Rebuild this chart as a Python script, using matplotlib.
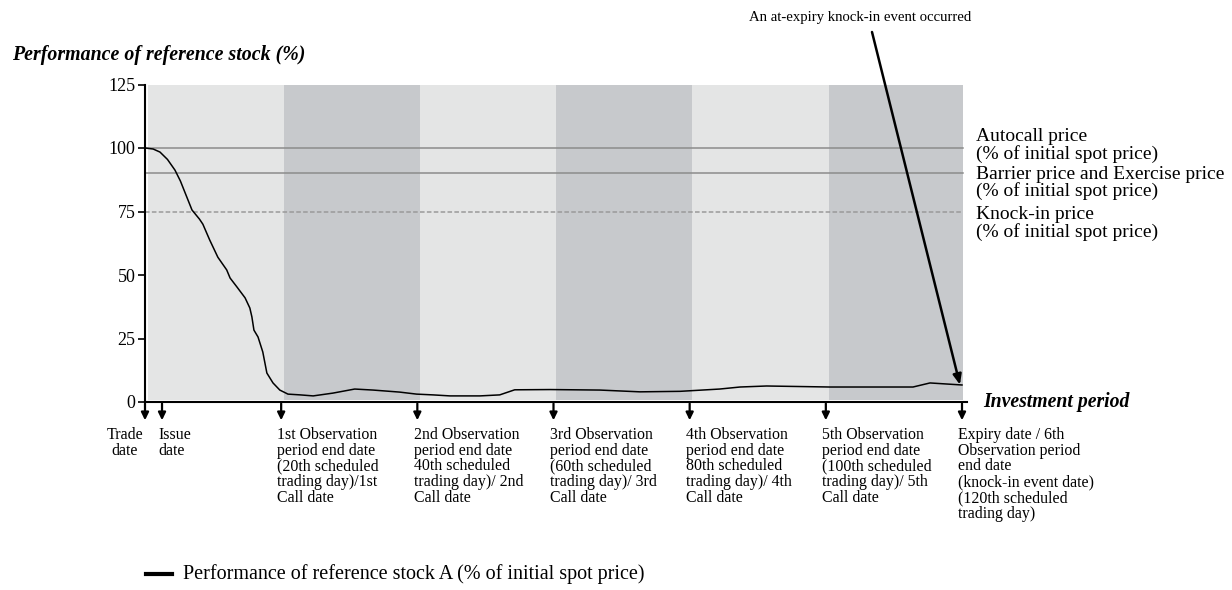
import matplotlib
matplotlib.use("Agg")
import matplotlib.pyplot as plt
import matplotlib.transforms as mtransforms
import numpy as np

plt.rcParams['font.family'] = ['Liberation Serif', 'DejaVu Serif']

# ---------------- data ----------------
days = [0, 1.2, 2.2, 3.3, 4.4, 5.2, 5.9, 6.9, 8.0, 8.5, 9.5, 10.7, 12.0, 12.5, 13.5,
        14.7, 15.4, 15.7, 16.0, 16.6, 17.3, 17.9, 18.8, 19.8, 21.0, 22.8, 24.7,
        27.6, 30.8, 33.5, 37.4, 39.9, 42.3, 44.8, 49.2, 52.1, 54.3, 59.5, 66.8,
        72.7, 78.6, 84.4, 87.4, 91.3, 100.6, 112.8, 115.3, 120.0]
performance = [100, 99.6, 98.4, 95.5, 91.3, 87.0, 82.3, 75.6, 72.0, 70.0, 63.8, 57.0,
               52.0, 48.8, 45.3, 41.0, 37.0, 33.5, 28.3, 25.6, 19.7, 11.4, 7.5, 4.7,
               3.1, 2.8, 2.4, 3.5, 5.1, 4.7, 3.9, 3.1, 2.8, 2.4, 2.4, 2.8, 4.8, 4.9,
               4.7, 4.0, 4.2, 5.1, 5.9, 6.3, 5.9, 5.9, 7.5, 6.7]

autocall_price = 100
barrier_price = 90
knock_in_price = 75

period_bounds = [0, 20, 40, 60, 80, 100, 120]
yticks = [0, 25, 50, 75, 100, 125]

event_days = [0, 2.5, 20, 40, 60, 80, 100, 120]
event_labels = [
    "Trade\ndate",
    "Issue\ndate",
    "1st Observation\nperiod end date\n(20th scheduled\ntrading day)/1st\nCall date",
    "2nd Observation\nperiod end date\n40th scheduled\ntrading day)/ 2nd\nCall date",
    "3rd Observation\nperiod end date\n(60th scheduled\ntrading day)/ 3rd\nCall date",
    "4th Observation\nperiod end date\n80th scheduled\ntrading day)/ 4th\nCall date",
    "5th Observation\nperiod end date\n(100th scheduled\ntrading day)/ 5th\nCall date",
    "Expiry date / 6th\nObservation period\nend date\n(knock-in event date)\n(120th scheduled\ntrading day)",
]
level_labels = ["Autocall price\n(% of initial spot price)",
                "Barrier price and Exercise price\n(% of initial spot price)",
                "Knock-in price\n(% of initial spot price)"]

# ---------------- figure ----------------
W, H = 1232, 590
fig = plt.figure(figsize=(W / 100, H / 100), dpi=100)
x0, x1 = 145, 967
y0, y1 = 402, 84.5
ax = fig.add_axes([x0 / W, 1 - y0 / H, (x1 - x0) / W, (y0 - y1) / H])
px_per_day = (962 - 145) / 120
ax.set_xlim(0, (x1 - x0) / px_per_day)
ax.set_ylim(0, 125)

light = '#e4e5e5'
dark = '#c7c9cc'
for i in range(len(period_bounds) - 1):
    a = period_bounds[i] + (0.45 if i == 0 else 0.4)
    b = period_bounds[i + 1] + 0.4
    if i == len(period_bounds) - 2:
        b = period_bounds[i + 1] + 0.15
    ax.fill_between([a, b], 0.8, 125, color=light if i % 2 == 0 else dark,
                    lw=0, zorder=0)

xend = period_bounds[-1] + 0.15
ax.plot([0, xend], [autocall_price] * 2, color='#8c8c8c', lw=1.1, zorder=1)
ax.plot([0, xend], [barrier_price] * 2, color='#8c8c8c', lw=1.1, zorder=1)
ax.plot([0, xend], [knock_in_price] * 2, color='#9a9a9a', lw=1.1,
        ls=(0, (3, 1.5)), zorder=1)

ax.plot(days, performance, color='black', lw=1.1, zorder=3)

for s in ['top', 'right']:
    ax.spines[s].set_visible(False)
ax.spines['left'].set_linewidth(1.5)
ax.spines['bottom'].set_linewidth(1.5)
ax.set_yticks(yticks)
ax.set_yticklabels([str(v) for v in yticks], fontsize=13)
ax.set_xticks([])
ax.tick_params(axis='y', length=5, width=1.2, pad=2)

# y title
fig.text(12 / W, 1 - 55 / H, "Performance of reference stock (%)", fontsize=14.3,
         fontweight='bold', fontstyle='italic', ha='left', va='center')
# x title
fig.text(983 / W, 1 - 402 / H, "Investment period", fontsize=14.2,
         fontweight='bold', fontstyle='italic', ha='left', va='center')

# level labels
blend = mtransforms.blended_transform_factory(fig.transFigure, ax.transData)
for lbl, yv in zip(level_labels, [101.0, 86.2, 70.3]):
    ax.text(976 / W, yv, lbl, transform=blend,
            fontsize=14, ha='left', va='center', linespacing=0.98)

# event arrows and labels
for d, lbl in zip(event_days, event_labels):
    ax.annotate('', xy=(d, -7.2), xytext=(d, -0.6), annotation_clip=False,
                arrowprops=dict(arrowstyle='-|>,head_length=0.45,head_width=0.22',
                                color='black', lw=1.6, shrinkA=0, shrinkB=0))
    if lbl.startswith("Trade"):
        ax.text(d - 3.0, -9.8, lbl, ha='center', va='top', fontsize=11.4,
                linespacing=0.98, multialignment='center')
    else:
        ax.text(d - 0.55, -9.8, lbl, ha='left', va='top', fontsize=11.4,
                linespacing=0.98)

# top annotation
fig.text(860 / W, 1 - 18 / H, "An at-expiry knock-in event occurred", fontsize=10.6,
         ha='center', va='center')
ax.annotate('', xy=(119.7, 6.8), xytext=((872 - 145) / px_per_day, (402 - 32) / 2.54),
            annotation_clip=False,
            arrowprops=dict(arrowstyle='-|>,head_length=0.6,head_width=0.25',
                            color='black', lw=1.8, shrinkA=0, shrinkB=0))

# legend
fig.lines.append(plt.Line2D([146 / W, 172 / W], [1 - 574 / H] * 2, color='black',
                            lw=3, transform=fig.transFigure))
fig.text(183 / W, 1 - 574 / H, "Performance of reference stock A (% of initial spot price)",
         fontsize=14.5, ha='left', va='center')

fig.savefig('out.png', dpi=100)
